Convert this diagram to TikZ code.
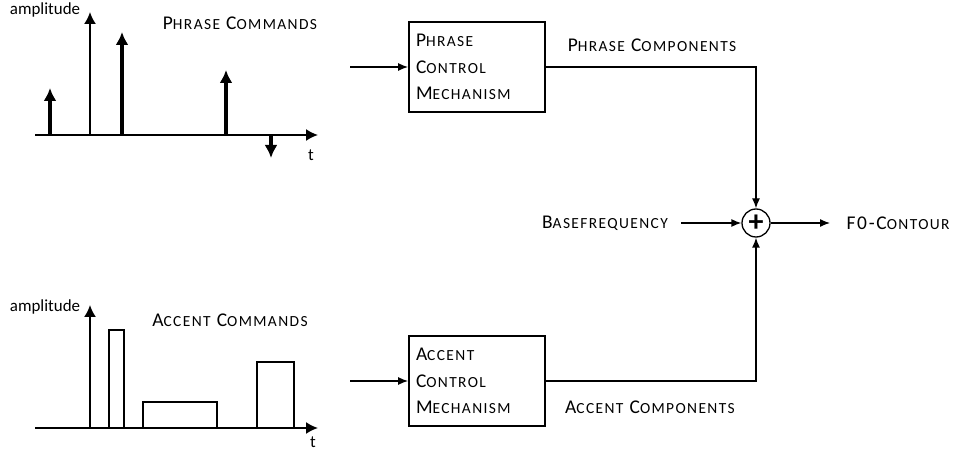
\documentclass[tikz,border=0pt]{standalone}
\usepackage{fontspec}
\setmainfont{Carlito}
\newfontfamily\capfont[LetterSpace=9]{Carlito}
\usetikzlibrary{arrows.meta}
% Carlito has no small caps: the lower letters are set smaller by hand
\newcommand{\lc}[1]{{\fontsize{15.5}{28}\selectfont #1}}
\tikzset{every picture/.style={x=1bp,y=-1bp}}
\tikzset{axis/.style={line width=1.8bp,-{Latex[length=12bp,width=12bp]}}}
\tikzset{spike/.style={line width=3.8bp,-{Latex[length=13bp,width=13bp]}}}
\tikzset{signal/.style={line width=1.3bp,-{Latex[length=10bp,width=8bp]}}}
\tikzset{pulse/.style={draw,line width=1.8bp}}
\tikzset{block/.style={draw,line width=1.8bp,minimum width=136bp,
	minimum height=90bp,inner sep=0pt,text width=122bp,align=left,
	font=\capfont\fontsize{19.5}{26.5}\selectfont}}
\tikzset{caption/.style={font=\capfont\fontsize{19.5}{20}\selectfont}}
\tikzset{axislabel/.style={font=\fontsize{17}{20}\selectfont}}
\tikzset{adder/.style={circle,draw,line width=1.3bp,minimum size=28bp,
	inner sep=0pt,font=\fontsize{30}{30}\selectfont\bfseries}}

\begin{document}
\begin{tikzpicture}
	\useasboundingbox (0,0) rectangle (955,453);
	% phrase commands
	\node[axislabel] (amp1) at (45,10) {amplitude};
	\node[axislabel] (t1) at (311,155) {t};
	\node[caption] (pcmd) at (240,23) {P\lc{HRASE} C\lc{OMMANDS}};
	\draw[axis] (35,135) -- (318,135);
	\draw[axis] (90,135) -- (90,12);
	\draw[spike] (50,135) -- (50,88);
	\draw[spike] (122,135) -- (122,32);
	\draw[spike] (226,135) -- (226,70);
	\draw[spike] (271,135) -- (271,158);
	% accent commands
	\node[axislabel] (amp2) at (45,307) {amplitude};
	\node[axislabel] (t2) at (313,442) {t};
	\node[caption] (acmd) at (230,320) {A\lc{CCENT} C\lc{OMMANDS}};
	\draw[axis] (35,428) -- (318,428);
	\draw[axis] (90,428) -- (90,305);
	\draw[pulse] (109,428) rectangle (124,330);
	\draw[pulse] (143,428) rectangle (217,402);
	\draw[pulse] (257,428) rectangle (294,362);
	% blocks
	\node[block] (pbox) at (477,67) {P\lc{HRASE}\\C\lc{ONTROL}\\M\lc{ECHANISM}};
	\node[block] (abox) at (477,381) {A\lc{CCENT}\\C\lc{ONTROL}\\M\lc{ECHANISM}};
	\coordinate (pin) at (350,67);
	\coordinate (ain) at (350,381);
	\node[adder] (sum) at (756,223) {+};
	\node[caption] (base) at (605,223) {B\lc{ASEFREQUENCY}};
	\node[caption,anchor=west] (f0) at (843,223) {F0-C\lc{ONTOUR}};
	\node[caption] (pcomp) at (652,45) {P\lc{HRASE} C\lc{OMPONENTS}};
	\node[caption] (acomp) at (650,407) {A\lc{CCENT} C\lc{OMPONENTS}};
	\draw[signal] (pin) -- (pbox.west);
	\draw[signal] (ain) -- (abox.west);
	\draw[signal] (pbox.east) -| (sum.north);
	\draw[signal] (abox.east) -| (sum.south);
	\draw[signal] ([xshift=10bp]base.east) -- (sum.west);
	\draw[signal] (sum.east) -- ([xshift=-13bp]f0.west);
\end{tikzpicture}
\end{document}
